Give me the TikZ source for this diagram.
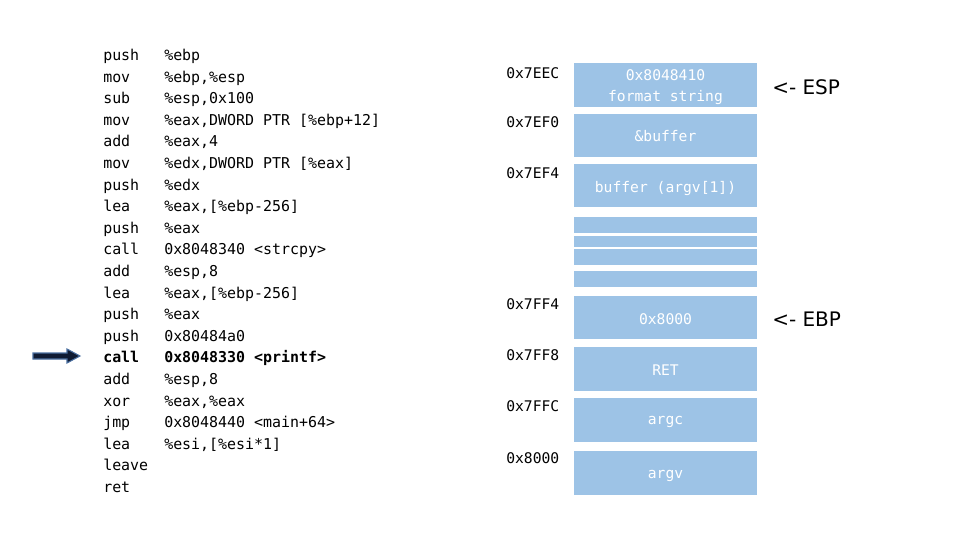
\documentclass[tikz,border=0pt]{standalone}
\usepackage{fontspec}
\newfontfamily\codefont{DejaVu Sans Mono}
\newfontfamily\labfont{DejaVu Sans}
\definecolor{cellblue}{HTML}{9DC3E6}
\definecolor{arrowfill}{HTML}{0F1B33}
\definecolor{arrowedge}{HTML}{4A6FA0}
\begin{document}
\begin{tikzpicture}[x=0.75pt,y=-0.75pt,
  code/.style={font=\codefont\fontsize{11.2pt}{13pt}\selectfont,anchor=base west,inner sep=0pt},
  boldcode/.style={code,font=\codefont\bfseries\fontsize{11.2pt}{13pt}\selectfont},
  addr/.style={font=\codefont\fontsize{11pt}{13pt}\selectfont,anchor=base west,inner sep=0pt},
  cell/.style={fill=cellblue,draw=none},
  celltext/.style={font=\codefont\fontsize{11pt}{13pt}\selectfont,text=white,inner sep=0pt},
  ptr/.style={font=\labfont\fontsize{15pt}{17pt}\selectfont,anchor=west,inner sep=0pt}]
\useasboundingbox (0,0) rectangle (960,540);
% code listing
\foreach \m/\o [count=\i from 0] in {push/\%ebp, mov/{\%ebp,\%esp}, sub/{\%esp,0x100}, mov/{\%eax,DWORD PTR [\%ebp+12]}, add/{\%eax,4}, mov/{\%edx,DWORD PTR [\%eax]}, push/\%edx, lea/{\%eax,[\%ebp-256]}, push/\%eax, call/{0x8048340 <strcpy>}, add/{\%esp,8}, lea/{\%eax,[\%ebp-256]}, push/\%eax, push/0x80484a0}{
  \node[code] (m\i) at (103,{60.5+21.6*\i}) {\m};
  \node[code] (o\i) at (164,{60.5+21.6*\i}) {\o};
}
\node[boldcode] (m14) at (103,{60.5+21.6*14}) {call};
\node[boldcode] (o14) at (164,{60.5+21.6*14}) {0x8048330 <printf>};
\foreach \m/\o [count=\i from 15] in {add/{\%esp,8}, xor/{\%eax,\%eax}, jmp/{0x8048440 <main+64>}, lea/{\%esi,[\%esi*1]}, leave/{}, ret/{}}{
  \node[code] (m\i) at (103,{60.5+21.6*\i}) {\m};
  \node[code] (o\i) at (164,{60.5+21.6*\i}) {\o};
}
% current instruction arrow
\coordinate (tip) at (80,356);
\draw[arrowedge,fill=arrowfill,line width=0.8pt,line join=miter]
  (33,353) -- (67,353) -- (67,349) -- (tip) -- (67,363) -- (67,359) -- (33,359) -- cycle;
% stack cells
\fill[cell] (574,63) rectangle (757,107) coordinate (c1);
\fill[cell] (574,114) rectangle (757,157);
\fill[cell] (574,164) rectangle (757,207);
\fill[cell] (574,217) rectangle (757,233);
\fill[cell] (574,236) rectangle (757,247);
\fill[cell] (574,249) rectangle (757,265);
\fill[cell] (574,271) rectangle (757,287);
\fill[cell] (574,296) rectangle (757,339);
\fill[cell] (574,347) rectangle (757,391);
\fill[cell] (574,398) rectangle (757,442);
\fill[cell] (574,451) rectangle (757,495);
% cell texts
\node[celltext] (t1a) at (665.5,75) {0x8048410};
\node[celltext] (t1b) at (665.5,97) {format string};
\node[celltext] (t2) at (665.5,136) {\&buffer};
\node[celltext] (t3) at (665.5,188) {buffer (argv[1])};
\node[celltext] (t4) at (665.5,319) {0x8000};
\node[celltext] (t5) at (665.5,370) {RET};
\node[celltext] (t6) at (665.5,422) {argc};
\node[celltext] (t7) at (665.5,476) {argv};
% addresses
\node[addr] (a1) at (506,78) {0x7EEC};
\node[addr] (a2) at (506,127) {0x7EF0};
\node[addr] (a3) at (506,178) {0x7EF4};
\node[addr] (a4) at (506,309) {0x7FF4};
\node[addr] (a5) at (506,360) {0x7FF8};
\node[addr] (a6) at (506,411) {0x7FFC};
\node[addr] (a7) at (506,463) {0x8000};
% pointers
\node[ptr] (esp) at (772,87) {<- ESP};
\node[ptr] (ebp) at (772,319) {<- EBP};
\end{tikzpicture}
\end{document}
